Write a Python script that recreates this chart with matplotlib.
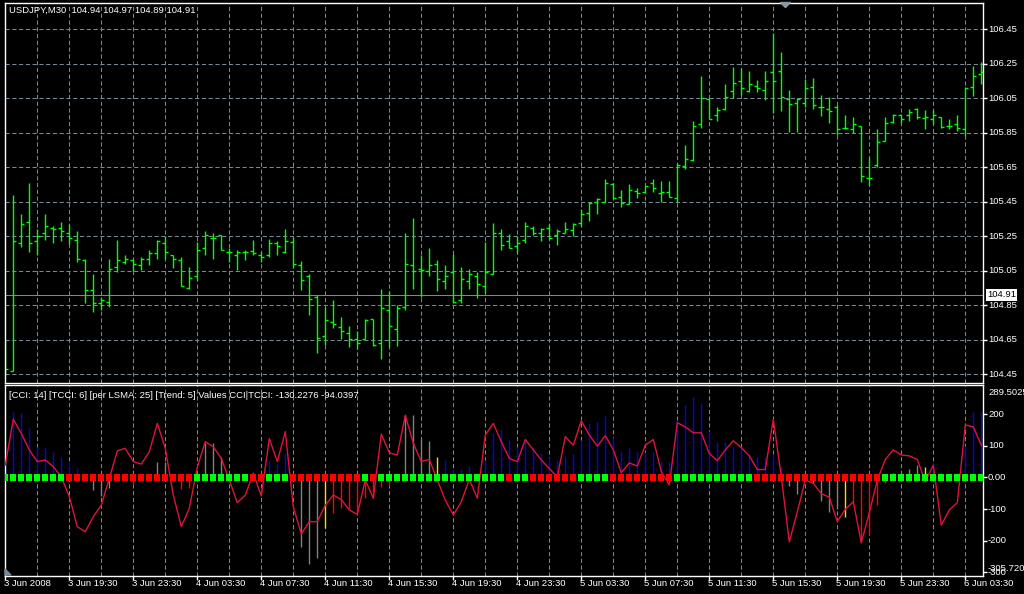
import matplotlib
matplotlib.use("Agg")
import matplotlib.pyplot as plt
import matplotlib.transforms as mtransforms
from matplotlib.patches import Polygon
import numpy as np

plt.rcParams['font.family'] = ['Liberation Sans', 'DejaVu Sans']

# ---------------- data ----------------
title = "USDJPY,M30  104.94 104.97 104.89 104.91"
sub_title = "[CCI: 14] [TCCI: 6] [per LSMA: 25] [Trend: 5] Values CCI|TCCI: -130.2276 -94.0397"

opens = [104.46, 104.47, 105.21, 105.33, 105.22, 105.27, 105.30, 105.30, 105.27, 105.23,
         105.11, 104.935, 104.865, 104.87, 105.07, 105.10, 105.11, 105.08, 105.12, 105.155,
         105.21, 105.14, 105.11, 104.95, 105.02, 105.18, 105.24, 105.254, 105.16, 105.14,
         105.16, 105.165, 105.14, 105.14, 105.21, 105.16, 105.215, 105.085, 105.02, 104.897,
         104.67, 104.75, 104.726, 104.687, 104.656, 104.656, 104.77, 104.63, 104.82, 104.71,
         104.84, 105.08, 105.06, 105.046, 105.09, 104.99, 105.044, 104.88, 104.99, 105.02,
         104.96, 105.03, 105.27, 105.22, 105.195, 105.225, 105.30, 105.27, 105.30, 105.254,
         105.27, 105.285, 105.324, 105.382, 105.448, 105.45, 105.55, 105.48, 105.434, 105.51,
         105.508, 105.558, 105.50, 105.508, 105.47, 105.655, 105.69, 105.90, 106.044, 105.953,
         105.985, 106.094, 106.15, 106.094, 106.12, 106.098, 106.204, 106.208, 106.044, 106.024,
         106.024, 106.117, 105.997, 105.985, 105.997, 105.875, 105.873, 105.89, 105.59, 105.663,
         105.804, 105.914, 105.953, 105.953, 105.987, 105.933, 105.928, 105.94, 105.89, 105.90,
         105.87, 106.117, 106.19]
highs = [104.65, 105.49, 105.38, 105.56, 105.29, 105.38, 105.31, 105.335, 105.32, 105.28,
         105.12, 105.03, 104.90, 105.12, 105.23, 105.14, 105.12, 105.13, 105.17, 105.23,
         105.25, 105.14, 105.13, 105.07, 105.215, 105.28, 105.266, 105.254, 105.18, 105.17,
         105.17, 105.23, 105.157, 105.234, 105.22, 105.293, 105.246, 105.104, 105.03, 104.91,
         104.84, 104.88, 104.78, 104.73, 104.70, 104.77, 104.77, 104.945, 104.93, 104.85,
         105.266, 105.353, 105.14, 105.18, 105.11, 105.085, 105.147, 105.07, 105.06, 105.042,
         105.217, 105.324, 105.293, 105.263, 105.25, 105.333, 105.308, 105.30, 105.32, 105.293,
         105.333, 105.324, 105.405, 105.448, 105.473, 105.58, 105.56, 105.517, 105.552, 105.53,
         105.54, 105.581, 105.57, 105.57, 105.676, 105.78, 105.92, 106.18, 106.05, 106.0,
         106.135, 106.234, 106.224, 106.21, 106.155, 106.208, 106.43, 106.32, 106.098, 106.05,
         106.16, 106.17, 106.067, 106.055, 106.01, 105.953, 105.94, 105.89, 105.707, 105.872,
         105.94, 105.957, 105.959, 105.986, 105.992, 105.982, 105.982, 105.943, 105.928, 105.953,
         106.113, 106.236, 106.262]
lows = [104.45, 104.47, 105.19, 105.16, 105.14, 105.23, 105.21, 105.22, 105.205, 105.10,
        104.865, 104.81, 104.82, 104.84, 105.04, 105.09, 105.046, 105.056, 105.085, 105.12,
        105.12, 105.066, 104.96, 104.945, 104.994, 105.14, 105.12, 105.17, 105.10, 105.056,
        105.11, 105.14, 105.10, 105.128, 105.14, 105.153, 105.066, 104.94, 104.79, 104.57,
        104.62, 104.72, 104.654, 104.61, 104.597, 104.652, 104.615, 104.54, 104.61, 104.615,
        104.82, 104.943, 104.897, 105.017, 104.93, 104.943, 104.86, 104.86, 104.943, 104.89,
        104.92, 105.03, 105.17, 105.18, 105.15, 105.21, 105.256, 105.22, 105.234, 105.20,
        105.266, 105.25, 105.31, 105.337, 105.376, 105.448, 105.473, 105.42, 105.434, 105.473,
        105.50, 105.508, 105.45, 105.48, 105.45, 105.64, 105.688, 105.875, 105.928, 105.916,
        105.98, 106.05, 106.068, 106.086, 106.088, 106.04, 105.966, 105.978, 105.856, 105.856,
        106.0, 105.986, 105.947, 105.908, 105.837, 105.87, 105.85, 105.566, 105.546, 105.65,
        105.804, 105.908, 105.905, 105.92, 105.928, 105.87, 105.90, 105.875, 105.87, 105.862,
        105.83, 106.063, 106.132]
closes = [104.48, 105.22, 105.32, 105.21, 105.25, 105.31, 105.29, 105.28, 105.24, 105.12,
          104.94, 104.86, 104.88, 105.06, 105.11, 105.12, 105.09, 105.12, 105.155, 105.22,
          105.16, 105.12, 104.96, 105.01, 105.17, 105.255, 105.24, 105.17, 105.157, 105.157,
          105.16, 105.15, 105.13, 105.21, 105.195, 105.22, 105.09, 104.994, 104.885, 104.66,
          104.764, 104.74, 104.70, 104.654, 104.63, 104.763, 104.617, 104.834, 104.73, 104.836,
          105.09, 105.05, 105.056, 105.083, 105.00, 105.02, 104.867, 105.00, 105.03, 104.97,
          105.044, 105.266, 105.20, 105.18, 105.21, 105.31, 105.266, 105.29, 105.24, 105.28,
          105.293, 105.318, 105.376, 105.444, 105.467, 105.558, 105.469, 105.444, 105.515, 105.50,
          105.54, 105.527, 105.508, 105.48, 105.663, 105.695, 105.89, 106.05, 105.928, 105.98,
          106.055, 106.137, 106.107, 106.13, 106.107, 106.15, 106.15, 106.055, 106.017, 106.044,
          106.107, 106.01, 105.997, 105.978, 105.873, 105.875, 105.90, 105.60, 105.59, 105.798,
          105.908, 105.953, 105.928, 105.972, 105.94, 105.943, 105.953, 105.885, 105.89, 105.875,
          106.107, 106.18, 106.20]

hist_vals = [97, 208, 205, 157, 97, 97, 81, 65, 53, 31,
             0, -40, -59, -35, 0, -8, -21, 0, 0, 50,
             50, 0, -38, -32, 0, 110, 110, 63, 0, 0,
             0, 18, 0, 55, 44, 78, 0, -219, -275, -256,
             -161, -114, -98, -101, -114, -66, -66, -30, -27, 0,
             197, 197, 123, 115, 63, 55, 28, 28, 36, 0,
             55, 139, 152, 120, 97, 118, 97, 78, 65, 55,
             67, 74, 118, 171, 176, 194, 129, 84, 94, 81,
             81, 81, 52, 50, 181, 229, 253, 236, 147, 113,
             113, 97, 92, 74, 65, 65, 74, 36, -27, -53,
             0, -19, -74, -109, -101, -125, -82, -198, -183, -88,
             -19, 13, 15, 28, 39, 32, 50, 18, 13, 13,
             99, 208, 208]
# b = blue, g = gray, r = red, y = gold, - = none
hist_kinds = ("bbbbbbbbbb" "-ggg-rr--g" "g-rr-ggg--" "-b-bbb-ggg" "yrrrrrrrr-"
              "ggggybbbb-" "bbbbbbbbbb" "bbbbbbbbbb" "bbbbbbbbbb" "bbbbbbbbgg"
              "-ggggyrrrr" "rggggybbbb" "bbb")
tcci = [39, 184, 139, 87, 50, 55, 34, 2, -61, -156,
        -172, -124, -88, -3, 84, 92, 50, 42, 81, 171,
        92, -56, -156, -98, 32, 113, 97, 60, -8, -80,
        -56, 13, -59, 123, 50, 145, -93, -179, -140, -140,
        -88, -56, -70, -103, -117, -8, -66, 137, 78, 71,
        197, 108, 50, 57, -8, -72, -119, -77, -6, -66,
        134, 171, 113, 60, 50, 120, 87, 55, 28, 2,
        129, 102, 179, 134, 99, 132, 87, 15, 46, 36,
        102, 120, 18, -24, 173, 160, 141, 141, 76, 53,
        87, 116, 94, 68, 25, 25, 184, 2, -204, -109,
        -8, -19, -51, -63, -140, -101, -77, -207, -112, -8,
        57, 87, 71, 68, 57, -14, 39, -151, -103, -80,
        166, 160, 102]
# G = green square, R = red square
signal = ("GGGGGGGG" + "R" * 16 + "G" * 7 + "RR" + "GGG" + "R" * 9 + "G" + "R" +
          "G" * 16 + "R" + "GG" + "R" * 6 + "G" * 4 + "R" * 8 + "G" * 10 + "R" * 16 + "G" * 13)

time_labels = ["3 Jun 2008", "3 Jun 19:30", "3 Jun 23:30", "4 Jun 03:30", "4 Jun 07:30",
               "4 Jun 11:30", "4 Jun 15:30", "4 Jun 19:30", "4 Jun 23:30", "5 Jun 03:30",
               "5 Jun 07:30", "5 Jun 11:30", "5 Jun 15:30", "5 Jun 19:30", "5 Jun 23:30",
               "6 Jun 03:30"]
price_levels = [104.45, 104.65, 104.85, 105.05, 105.25, 105.45, 105.65, 105.85, 106.05, 106.25, 106.45]
bid = 104.91
cci_levels = [200, 100, 0, -100, -200, -300]
cci_level_labels = ["200", "100", "0.00", "-100", "-200", "-300"]
cci_max, cci_min = 289.5025, -305.720

# ---------------- layout ----------------
W, H = 1024, 594
FS = 6.8
GRID = '#778899'
BAR = '#00ff00'
DASH = (0, (4, 2.5))
LW = 0.75

fig = plt.figure(figsize=(W / 100, H / 100), dpi=100, facecolor='black')


def box(x0, y0, x1, y1):
    return [x0 / W, 1 - y1 / H, (x1 - x0) / W, (y1 - y0) / H]


ax = fig.add_axes(box(4.5, 2.5, 982.5, 382.5))
ax2 = fig.add_axes(box(4.5, 384.5, 982.5, 575.5))

n = len(opens)
xs = np.arange(n)
xl = ((4.5 - 5.3) / 8, (982.5 - 5.3) / 8)


def price_at(y):
    return 106.45 - (y - 29.3) / 172.4


def cci_at(y):
    return (477.4 - y) / 0.316


for a in (ax, ax2):
    a.set_facecolor('black')
    a.set_xlim(*xl)
    for s in a.spines.values():
        s.set_color('white')
        s.set_linewidth(1.0)
    for k in range(4, n, 4):
        a.axvline(k, color=GRID, lw=LW, ls=DASH, zorder=0)

ax.set_ylim(price_at(382.5), price_at(2.5))
ax2.set_ylim(cci_at(575.5), cci_at(384.5))

# main price bars
for lev in price_levels:
    ax.axhline(lev, color=GRID, lw=LW, ls=DASH, zorder=0)
ax.axhline(bid, color=GRID, lw=LW, zorder=1)
ax.vlines(xs, lows, highs, color=BAR, lw=1.0, zorder=2)
ax.hlines(opens, xs - 0.38, xs, color=BAR, lw=1.0, zorder=2)
ax.hlines(closes, xs, xs + 0.38, color=BAR, lw=1.0, zorder=2)

ax.set_xticks([])
ax.yaxis.tick_right()
ax.set_yticks(price_levels)
ax.tick_params(axis='y', length=3, width=1, color='white', direction='out', labelright=False)

tr = mtransforms.blended_transform_factory(fig.transFigure, ax.transData)
for lev in price_levels:
    ax.text(988 / W, lev, f"{lev:.2f}", transform=tr, color='white', fontsize=FS,
            va='center', ha='left')
ax.text(987 / W, bid, f"{bid:.2f}", transform=tr, color='black', fontsize=FS,
        va='center', ha='left', bbox=dict(boxstyle='square,pad=0.15', fc='white', ec='none'))

# indicator window
kind_color = {'b': '#0000ff', 'g': '#808080', 'r': '#ff0000', 'y': '#ffd700'}
hx, hv, hc = [], [], []
for i, (v, k) in enumerate(zip(hist_vals, hist_kinds)):
    if k in kind_color and v != 0:
        hx.append(i)
        hv.append(v)
        hc.append(kind_color[k])
ax2.vlines(hx, 0, hv, colors=hc, lw=1.0, zorder=2)
ax2.plot(xs, tcci, color='#dc143c', lw=1.0, zorder=3)
sig_cols = ['#00ff00' if c == 'G' else '#ff0000' for c in signal]
ax2.scatter(xs, np.zeros(n), marker='s', s=20, c=sig_cols, linewidths=0, zorder=4)

ax2.yaxis.tick_right()
ax2.set_yticks(cci_levels)
ax2.tick_params(axis='y', length=3, width=1, color='white', direction='out', labelright=False)
ax2.set_xticks(range(0, n, 8))
ax2.tick_params(axis='x', length=3, width=1, color='white', direction='out', labelbottom=False)

tr2 = mtransforms.blended_transform_factory(fig.transFigure, ax2.transData)
for lev, lab in zip(cci_levels, cci_level_labels):
    ax2.text(988 / W, lev, lab, transform=tr2, color='white', fontsize=FS, va='center', ha='left')
fig.text(988 / W, 1 - 392.5 / H, f"{cci_max:.4f}", color='white', fontsize=FS, va='center', ha='left')
fig.text(988 / W, 1 - 568.5 / H, f"{cci_min:.3f}", color='white', fontsize=FS, va='center', ha='left')

# time labels
for i, lab in zip(range(0, n, 8), time_labels):
    fig.text((5.3 + 8 * i - 1) / W, 1 - 583.5 / H, lab, color='white', fontsize=FS,
             va='center', ha='left')

fig.text(9 / W, 1 - 10.5 / H, title, color='white', fontsize=FS, va='center', ha='left')
fig.text(9 / W, 1 - 395.5 / H, sub_title, color='white', fontsize=FS, va='center', ha='left')


def fpts(pts):
    return [(x / W, 1 - y / H) for x, y in pts]


fig.add_artist(Polygon(fpts([(780.5, 2.5), (790.5, 2.5), (785.5, 7.5)]), closed=True,
                       transform=fig.transFigure, color='#8899aa', zorder=10))
fig.add_artist(Polygon(fpts([(5, 575), (5, 569), (11, 575)]), closed=True,
                       transform=fig.transFigure, color='#778899', zorder=10))

fig.savefig('out.png', dpi=100, facecolor='black')
